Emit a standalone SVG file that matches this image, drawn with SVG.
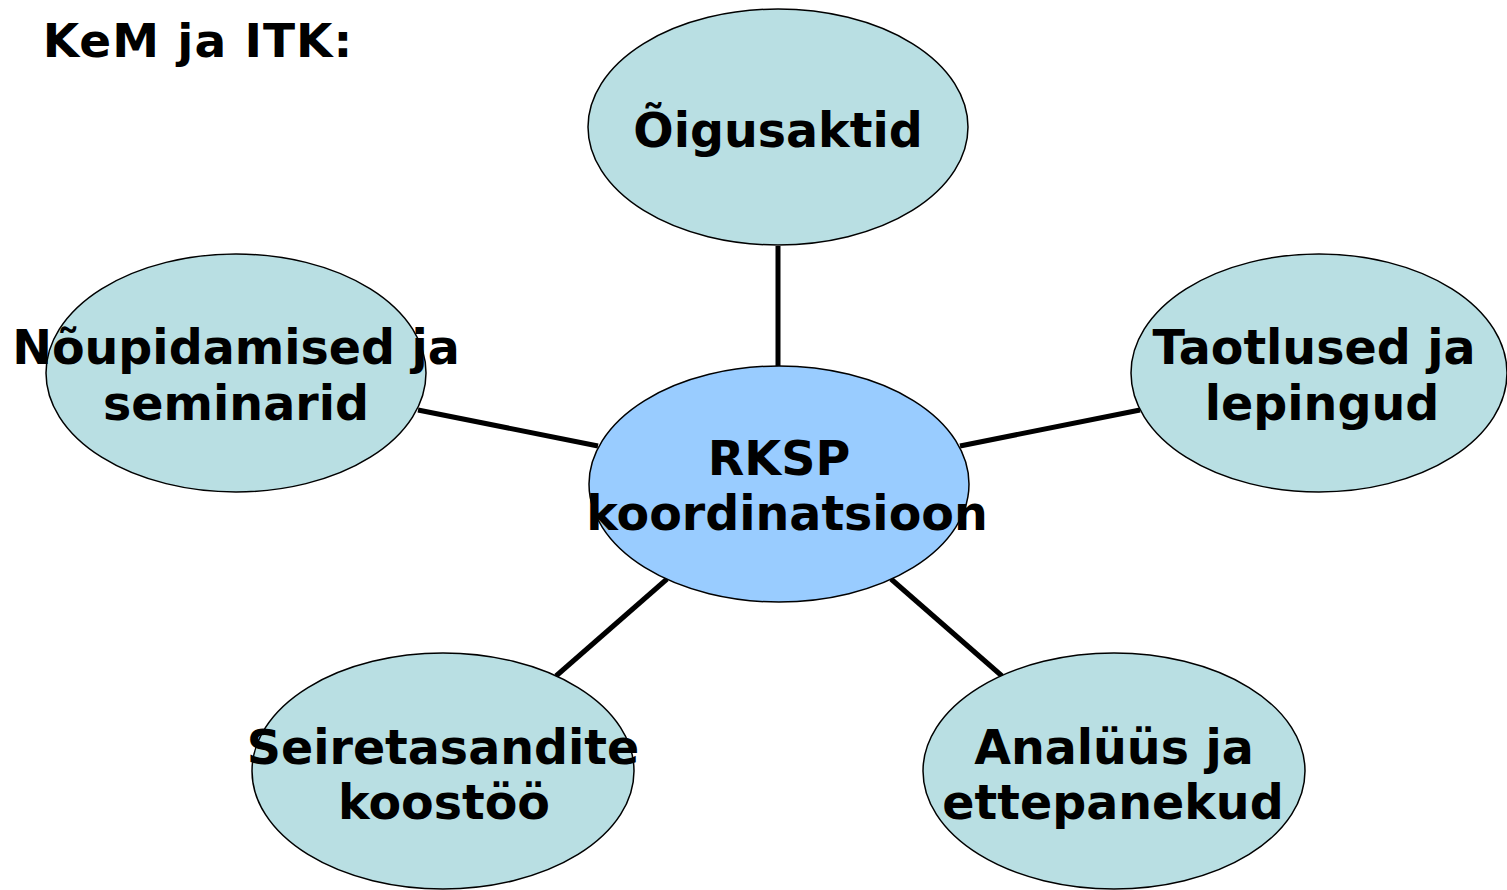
<svg xmlns="http://www.w3.org/2000/svg" width="1507" height="890" viewBox="0 0 1507 890">
<style>
.n{fill:#B9DFE3;stroke:#000;stroke-width:1.5}
.c{fill:#99CCFF;stroke:#000;stroke-width:1.5}
text{font-family:"DejaVu Sans",Verdana,sans-serif;font-weight:bold;font-size:47.5px;fill:#000;text-anchor:middle}
.e{stroke:#000;stroke-width:5;fill:none}
</style>
<rect width="1507" height="890" fill="#fff"/>
<text x="198" y="57" style="font-size:47px;letter-spacing:1px">KeM ja ITK:</text>
<g id="connectors">
<line class="e" x1="778" y1="246" x2="778" y2="366"/>
<line class="e" x1="418" y1="410" x2="598" y2="446"/>
<line class="e" x1="960" y1="446" x2="1140" y2="410"/>
<line class="e" x1="667" y1="579" x2="556" y2="676"/>
<line class="e" x1="891" y1="579" x2="1002" y2="676"/>
</g>
<g id="n-oigus"><ellipse class="n" cx="778" cy="127" rx="190" ry="118"/><text x="778" y="147">Õigusaktid</text></g>
<g id="n-noup"><ellipse class="n" cx="236" cy="373" rx="190" ry="119"/><text x="236" y="364">Nõupidamised ja</text><text x="236" y="420">seminarid</text></g>
<g id="n-taot"><ellipse class="n" cx="1319" cy="373" rx="188" ry="119"/><text x="1314" y="364">Taotlused ja</text><text x="1322" y="420">lepingud</text></g>
<g id="n-center"><ellipse class="c" cx="779" cy="484" rx="190" ry="118"/><text x="779" y="475">RKSP</text><text x="787" y="530">koordinatsioon</text></g>
<g id="n-seire"><ellipse class="n" cx="443" cy="771" rx="191" ry="118"/><text x="443" y="764">Seiretasandite</text><text x="444" y="819">koostöö</text></g>
<g id="n-anal"><ellipse class="n" cx="1114" cy="771" rx="191" ry="118"/><text x="1114" y="764">Analüüs ja</text><text x="1113" y="819">ettepanekud</text></g>
</svg>
